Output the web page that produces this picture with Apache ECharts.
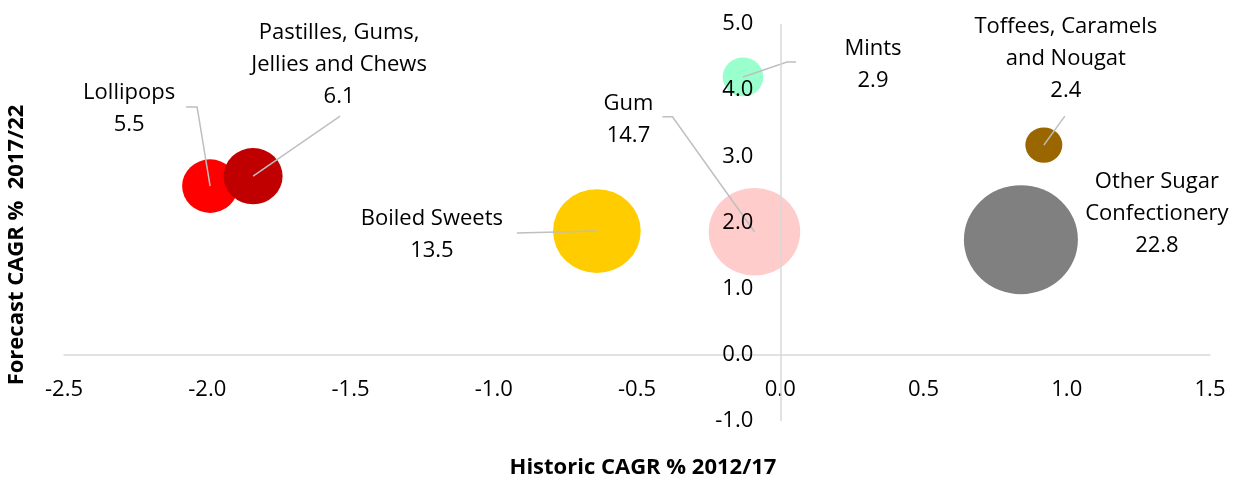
<!DOCTYPE html>
<html>
<head>
<meta charset="utf-8">
<script src="https://cdn.jsdelivr.net/npm/echarts@6/dist/echarts.min.js"></script>
<style>
  html, body { margin: 0; padding: 0; background: #ffffff; }
  #chart { width: 1244px; height: 487px; }
</style>
</head>
<body>
<div id="chart"></div>
<script>
// Sugar confectionery categories: historic vs forecast growth, bubble = market size
const categories = [
  'Lollipops',
  'Pastilles, Gums,\nJellies and Chews',
  'Boiled Sweets',
  'Gum',
  'Mints',
  'Toffees, Caramels\nand Nougat',
  'Other Sugar\nConfectionery'
];
const historicCagr = [-1.99, -1.84, -0.64, -0.09, -0.13, 0.92, 0.84];
const forecastCagr = [2.55, 2.70, 1.87, 1.86, 4.20, 3.17, 1.74];
const marketSize   = [5.5, 6.1, 13.5, 14.7, 2.9, 2.4, 22.8];

// Axis tick values
const xTicks = [-2.5, -2.0, -1.5, -1.0, -0.5, 0.0, 0.5, 1.0, 1.5];
const yTicks = [-1, 0, 1, 2, 3, 4, 5];

// Styling
const bubbleColors = ['#FF0000', '#C00000', '#FFCC00', '#FFCCCC', '#99FFCC', '#996600', '#808080'];
// label block offset from bubble centre, in px
const labelOffsets = [[-81, -77], [86, -111], [-165, 4], [-126, -112], [130, -12], [22, -86], [136, -26]];
// leader line points relative to bubble centre (last point is the centre)
const leaderPaths = [
  [[-24, -79], [-13, -79], [0, 0]],
  [[87, -60], [0, 0]],
  [[-80, 2], [0, 0]],
  [[-92, -115], [-82, -115], [0, 0]],
  [[53, -15], [44, -15], [0, 0]],
  [[21, -29], [0, 0]],
  null
];

const FONT = 'Open Sans';
const TEXT = '#000000';
const AXIS_COLOR = '#D9D9D9';
const X_LABEL_MARGIN = 24;
const maxSize = Math.max(...marketSize);
const bubbleW = 114, bubbleH = 109;
const GRID = { left: 64, right: 34, top: 24, bottom: 66 };

const chart = echarts.init(document.getElementById('chart'), null, { renderer: 'canvas' });

const bubbleData = categories.map((name, i) => ({
  name,
  value: [historicCagr[i], forecastCagr[i], marketSize[i]],
  itemStyle: { color: bubbleColors[i] },
  label: { offset: labelOffsets[i] }
}));

const axisLabelStyle = { fontFamily: FONT, fontSize: 22, color: TEXT };
const XRANGE = { min: xTicks[0], max: xTicks[xTicks.length - 1], interval: 0.5 };
const YRANGE = { min: yTicks[0], max: yTicks[yTicks.length - 1], interval: 1 };
const titleFont = 'bold 22px "' + FONT + '"';
const fmt = v => v.toFixed(1);

// xOff / yOff shift the axes so they cross at (0, 0)
function buildOption(xOff, yOff, extraGraphics) {
  return {
    animation: false,
    grid: Object.assign({ containLabel: false, outerBoundsMode: 'none' }, GRID),
    xAxis: Object.assign({
      type: 'value', position: 'bottom', offset: xOff,
      axisLine: { show: true, onZero: false, lineStyle: { color: AXIS_COLOR, width: 1.5 } },
      axisTick: { show: false }, splitLine: { show: false },
      axisLabel: Object.assign({ margin: X_LABEL_MARGIN, formatter: fmt }, axisLabelStyle)
    }, XRANGE),
    yAxis: Object.assign({
      // tick labels sit above the bubbles; the vertical zero line is drawn below them
      type: 'value', position: 'left', offset: yOff, z: 10,
      axisLine: { show: false, onZero: false },
      axisTick: { show: false }, splitLine: { show: false },
      axisLabel: Object.assign({ margin: 27, formatter: fmt }, axisLabelStyle)
    }, YRANGE),
    graphic: [
      {
        type: 'text', x: 643, y: 468,
        style: {
          text: 'Historic CAGR % 2012/17',
          font: titleFont, fill: TEXT,
          align: 'center', verticalAlign: 'middle'
        }
      },
      {
        type: 'text', x: 17, y: 245, rotation: Math.PI / 2,
        style: {
          text: 'Forecast CAGR %  2017/22',
          font: titleFont, fill: TEXT,
          align: 'center', verticalAlign: 'middle'
        }
      }
    ].concat(extraGraphics || []),
    series: [
      {
        // vertical axis line at x = 0
        type: 'scatter',
        data: [],
        z: 1,
        silent: true,
        markLine: {
          silent: true,
          symbol: 'none',
          label: { show: false },
          lineStyle: { color: AXIS_COLOR, width: 1.5, type: 'solid' },
          emphasis: { disabled: true },
          data: [{ xAxis: 0 }]
        }
      },
      {
        type: 'scatter',
        data: bubbleData,
        symbol: 'circle',
        symbolSize: v => {
          const s = Math.sqrt(v[2] / maxSize);
          return [bubbleW * s, bubbleH * s];
        },
        itemStyle: { opacity: 1 },
        label: {
          show: true,
          position: 'inside',
          formatter: p => p.name + '\n' + p.value[2].toFixed(1),
          fontFamily: FONT, fontSize: 22, color: TEXT,
          lineHeight: 32, align: 'center'
        },
        emphasis: { disabled: true },
        z: 2
      },
      {
        type: 'custom',
        z: 5,
        silent: true,
        data: categories.map((_, i) => [historicCagr[i], forecastCagr[i], i]),
        renderItem: (params, api) => {
          const path = leaderPaths[api.value(2)];
          if (!path) return null;
          const c = api.coord([api.value(0), api.value(1)]);
          return {
            type: 'polyline',
            shape: { points: path.map(p => [c[0] + p[0], c[1] + p[1]]) },
            style: { stroke: '#BFBFBF', lineWidth: 1.5, fill: null }
          };
        }
      }
    ]
  };
}

chart.setOption(buildOption(0, 0));
// shift the axes onto the zero crossings
const zeroX = chart.convertToPixel({ xAxisIndex: 0 }, 0);
const leftX = chart.convertToPixel({ xAxisIndex: 0 }, XRANGE.min);
const zeroY = chart.convertToPixel({ yAxisIndex: 0 }, 0);
const bottomY = chart.convertToPixel({ yAxisIndex: 0 }, YRANGE.min);
const xOff = -(bottomY - zeroY);
const yOff = -(zeroX - leftX);
chart.setOption(buildOption(xOff, yOff), true);

// the x tick label at the axis crossing can be suppressed by the axis layout; restore it
const crossLabel = fmt(0);
let crossShown = false;
chart.getZr().storage.traverse(el => {
  if (el.type === 'text' && el.style && el.style.text === crossLabel &&
      !el.ignore && !el.invisible && el.y > zeroY + 5) {
    crossShown = true;
  }
});
if (!crossShown) {
  chart.setOption(buildOption(xOff, yOff, [{
    type: 'text', x: zeroX, y: zeroY + X_LABEL_MARGIN,
    style: {
      text: crossLabel, font: '22px "' + FONT + '"', fill: TEXT,
      align: 'center', verticalAlign: 'top'
    }
  }]), true);
}
</script>
</body>
</html>
